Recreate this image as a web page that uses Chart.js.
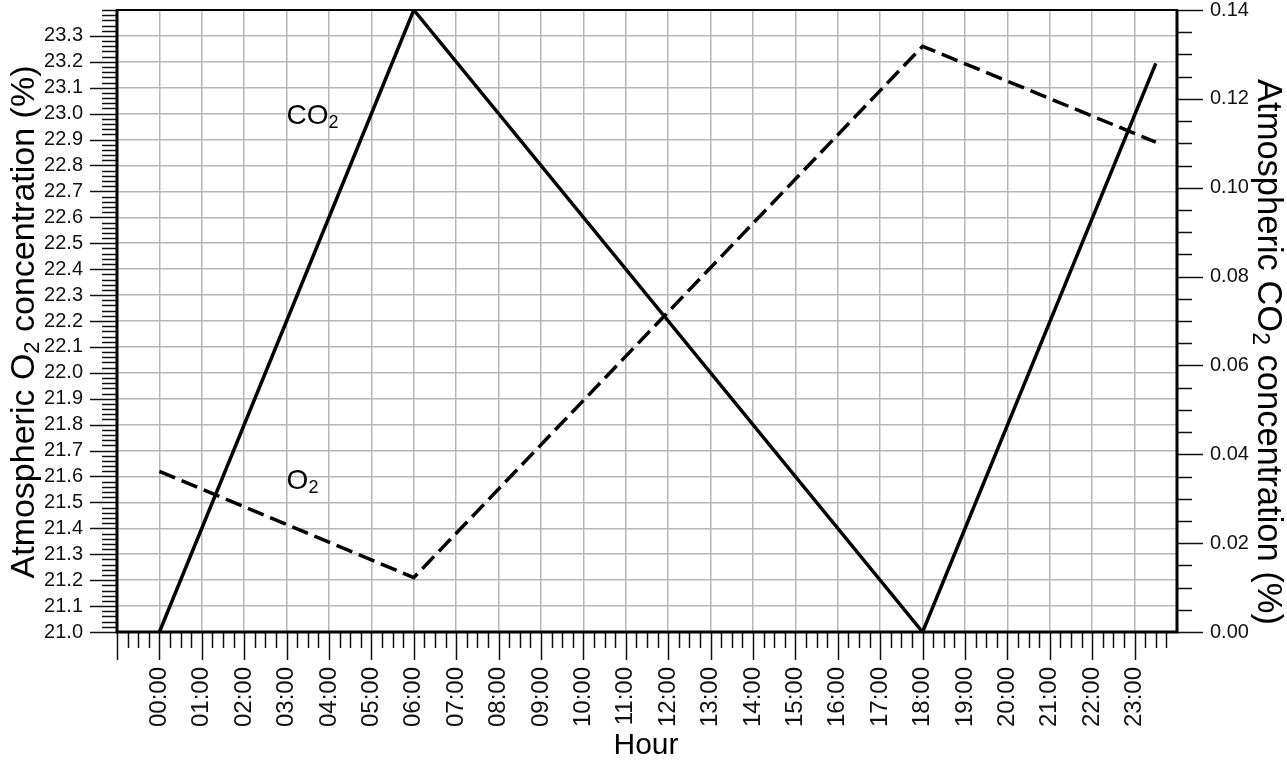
<!DOCTYPE html>
<html>
<head>
<meta charset="utf-8">
<script src="https://cdn.jsdelivr.net/npm/chart.js@4.4.1/dist/chart.umd.min.js"></script>
<style>
  html, body { margin: 0; padding: 0; background: #fff; }
  #wrap { width: 1287px; height: 761px; }
</style>
</head>
<body>
<div id="wrap"><canvas id="chart" width="1287" height="761"></canvas></div>
<script>
// 数据（从图中读取的折线顶点）
const hours = [0, 6, 18, 23.5];
const co2Values = [0, 0.14, 0, 0.128];
const o2Values = [21.62, 21.21, 23.26, 22.89];

// 刻度标签
const hourLabels = [
  '00:00', '01:00', '02:00', '03:00', '04:00', '05:00', '06:00', '07:00',
  '08:00', '09:00', '10:00', '11:00', '12:00', '13:00', '14:00', '15:00',
  '16:00', '17:00', '18:00', '19:00', '20:00', '21:00', '22:00', '23:00'
];
const o2TickLabels = [
  '21.0', '21.1', '21.2', '21.3', '21.4', '21.5', '21.6', '21.7', '21.8',
  '21.9', '22.0', '22.1', '22.2', '22.3', '22.4', '22.5', '22.6', '22.7',
  '22.8', '22.9', '23.0', '23.1', '23.2', '23.3'
];
const co2TickLabels = ['0.00', '0.02', '0.04', '0.06', '0.08', '0.10', '0.12', '0.14'];

const FONT = '"Liberation Sans", Arial, sans-serif';

// 带下标的文字
function drawSubText(ctx, parts, size, align) {
  const subSize = Math.round(size * 0.66);
  let total = 0;
  const widths = parts.map(p => {
    ctx.font = (p[1] ? subSize : size) + 'px ' + FONT;
    const w = ctx.measureText(p[0]).width;
    total += w;
    return w;
  });
  let x = align === 'center' ? -total / 2 : 0;
  ctx.textAlign = 'left';
  ctx.textBaseline = 'middle';
  parts.forEach((p, i) => {
    ctx.font = (p[1] ? subSize : size) + 'px ' + FONT;
    ctx.fillText(p[0], x, p[1] ? size * 0.24 : 0);
    x += widths[i];
  });
}

// 刻度线、边框、标题
const decorPlugin = {
  id: 'decor',
  afterDatasetsDraw(chart) {
    const { ctx, chartArea: a, scales } = chart;
    const xs = scales.x, yl = scales.y, yr = scales.y2;
    ctx.save();
    ctx.strokeStyle = '#111';
    ctx.lineWidth = 1.5;
    ctx.beginPath();
    // 底部刻度：每 15 分钟
    for (let i = -4; i < 96; i++) {
      const px = Math.round(xs.getPixelForValue(i / 4)) + 0.5;
      const len = i % 4 === 0 ? 28 : 16;
      ctx.moveTo(px, a.bottom);
      ctx.lineTo(px, a.bottom + len);
    }
    // 左侧刻度：每 0.02
    for (let i = 0; i <= 120; i++) {
      const py = Math.round(yl.getPixelForValue(21 + i * 0.02)) + 0.5;
      const len = (i % 5 === 0 && i < 120) ? 27 : 15;
      ctx.moveTo(a.left, py);
      ctx.lineTo(a.left - len, py);
    }
    // 右侧刻度：每 0.005
    for (let i = 0; i <= 28; i++) {
      const py = Math.round(yr.getPixelForValue(i * 0.005)) + 0.5;
      const len = i % 4 === 0 ? 26 : 15;
      ctx.moveTo(a.right, py);
      ctx.lineTo(a.right + len, py);
    }
    ctx.stroke();

    // 边框
    ctx.strokeStyle = '#000';
    ctx.lineWidth = 2;
    ctx.strokeRect(a.left, a.top, a.right - a.left, a.bottom - a.top);
    ctx.lineWidth = 3;
    ctx.beginPath();
    ctx.moveTo(a.left, a.top);
    ctx.lineTo(a.left, a.bottom);
    ctx.lineTo(a.right, a.bottom);
    ctx.lineTo(a.right, a.top);
    ctx.stroke();

    ctx.fillStyle = '#000';
    // 曲线注释
    ctx.save();
    ctx.translate(xs.getPixelForValue(3), yl.getPixelForValue(22.99));
    drawSubText(ctx, [['CO', false], ['2', true]], 28, 'left');
    ctx.restore();
    ctx.save();
    ctx.translate(xs.getPixelForValue(3), yl.getPixelForValue(21.58));
    drawSubText(ctx, [['O', false], ['2', true]], 28, 'left');
    ctx.restore();

    // 坐标轴标题
    ctx.save();
    ctx.translate(25, 322);
    ctx.rotate(-Math.PI / 2);
    drawSubText(ctx, [['Atmospheric O', false], ['2', true], [' concentration (%)', false]], 34, 'center');
    ctx.restore();

    ctx.save();
    ctx.translate(1268, 352);
    ctx.rotate(Math.PI / 2);
    drawSubText(ctx, [['Atmospheric CO', false], ['2', true], [' concentration (%)', false]], 34.5, 'center');
    ctx.restore();

    ctx.font = '30px ' + FONT;
    ctx.textAlign = 'center';
    ctx.textBaseline = 'middle';
    ctx.fillText('Hour', (a.left + a.right) / 2 - 1, 746);
    ctx.restore();
  }
};

function fixSize(size, key) {
  return (scale) => {
    scale[key] = size;
    scale.paddingLeft = 0;
    scale.paddingRight = 0;
    scale.paddingTop = 0;
    scale.paddingBottom = 0;
  };
}

const ctx = document.getElementById('chart').getContext('2d');
new Chart(ctx, {
  type: 'line',
  data: {
    datasets: [
      {
        label: 'CO2',
        data: hours.map((h, i) => ({ x: h, y: co2Values[i] })),
        yAxisID: 'y2',
        borderColor: '#000',
        borderWidth: 3.5,
        pointRadius: 0,
        tension: 0
      },
      {
        label: 'O2',
        data: hours.map((h, i) => ({ x: h, y: o2Values[i] })),
        yAxisID: 'y',
        borderColor: '#000',
        borderWidth: 3.5,
        borderDash: [17, 7],
        pointRadius: 0,
        tension: 0
      }
    ]
  },
  options: {
    responsive: false,
    animation: false,
    devicePixelRatio: 1,
    layout: { padding: { top: 10, left: 0, right: 0, bottom: 0 } },
    plugins: {
      legend: { display: false },
      tooltip: { enabled: false }
    },
    scales: {
      x: {
        type: 'linear',
        min: -1,
        max: 24,
        afterFit: fixSize(129, 'height'),
        border: { display: false },
        grid: { color: '#b6b6b6', lineWidth: 1.5, drawTicks: false },
        ticks: {
          stepSize: 1,
          autoSkip: false,
          minRotation: 90,
          maxRotation: 90,
          padding: 35,
          color: '#111',
          font: { family: FONT, size: 24 },
          callback: (val) => (Number.isInteger(val) && val >= 0 && val <= 23) ? hourLabels[val] : ''
        }
      },
      y: {
        position: 'left',
        min: 21.0,
        max: 23.4,
        afterFit: fixSize(117, 'width'),
        border: { display: false },
        grid: { color: '#b6b6b6', lineWidth: 1.5, drawTicks: false },
        ticks: {
          stepSize: 0.1,
          autoSkip: false,
          padding: 34,
          color: '#111',
          font: { family: FONT, size: 20 },
          callback: (val, idx) => o2TickLabels[idx] || ''
        }
      },
      y2: {
        position: 'right',
        min: 0,
        max: 0.14,
        afterFit: fixSize(110, 'width'),
        border: { display: false },
        grid: { display: false, drawTicks: false },
        ticks: {
          stepSize: 0.02,
          autoSkip: false,
          padding: 33,
          color: '#111',
          font: { family: FONT, size: 20 },
          callback: (val, idx) => co2TickLabels[idx] || ''
        }
      }
    }
  },
  plugins: [decorPlugin]
});
</script>
</body>
</html>
